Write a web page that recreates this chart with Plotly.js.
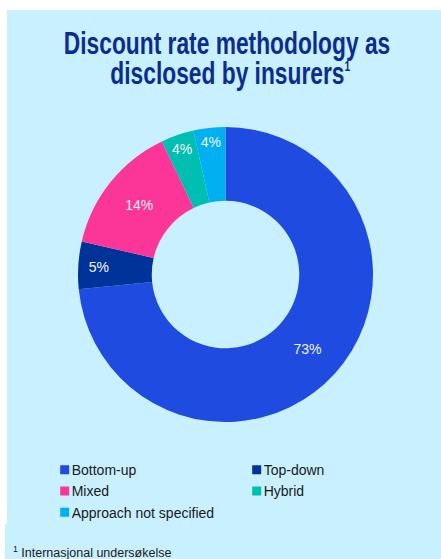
<!DOCTYPE html>
<html>
<head>
<meta charset="utf-8">
<script src="https://cdn.plot.ly/plotly-3.0.1.min.js"></script>
<style>
  html, body { margin: 0; padding: 0; background: #ffffff; width: 441px; height: 559px; overflow: hidden; }
  #chart { position: absolute; left: 7px; top: 10px; width: 434px; height: 549px; }
  #band { position: absolute; left: 5px; top: 524px; width: 4px; height: 35px; background: #C9F0FE; }
</style>
</head>
<body>
<div id="band"></div>
<div id="chart"></div>
<script>
// Data
const categories = ["Bottom-up", "Top-down", "Mixed", "Hybrid", "Approach not specified"];
const shares = [73.4, 5.2, 14.3, 3.6, 3.5];
const sliceColors = ["#204BE0", "#00339A", "#FC3698", "#00BFB2", "#00B0F0"];
const titleLine1 = "Discount rate methodology as";
const titleLine2 = "disclosed by insurers<sup><span style=\"font-size:14px\">1</span></sup>";
const footnoteText = "<sup>1</sup>&nbsp;Internasjonal undersøkelse";

const W = 434, H = 549;
const BG = "#C9F0FE";
const NAVY = "#0B2E8E";
const titleFont = { family: "Liberation Sans, Arial, sans-serif", size: 31, color: NAVY, weight: "bold" };

const trace = {
  type: "pie",
  labels: categories,
  values: shares,
  hole: 0.5,
  sort: false,
  direction: "clockwise",
  rotation: 0,
  domain: { x: [71 / W, 366 / W], y: [137 / H, 432 / H] },
  marker: { colors: sliceColors, line: { width: 0 } },
  texttemplate: "%{percent:.0%}",
  textposition: "inside",
  insidetextorientation: "horizontal",
  textfont: { family: "Liberation Sans, Arial, sans-serif", size: 14, color: "#F4F4F4" },
  hoverinfo: "label+percent"
};

const layout = {
  width: W,
  height: H,
  paper_bgcolor: BG,
  plot_bgcolor: BG,
  margin: { l: 0, r: 0, t: 0, b: 0, autoexpand: false },
  showlegend: true,
  title: {
    text: titleLine1,
    font: titleFont,
    x: 0.507,
    xanchor: "center",
    xref: "container",
    yref: "container",
    y: 0.9585,
    yanchor: "top"
  },
  legend: {
    orientation: "h",
    x: 0.0569,
    xanchor: "left",
    y: 0.191,
    yanchor: "top",
    entrywidth: 147,
    traceorder: "normal",
    font: { family: "Liberation Sans, Arial, sans-serif", size: 14, color: "#1a1a1a" },
    bgcolor: "rgba(0,0,0,0)"
  },
  annotations: [
    {
      text: titleLine2,
      xref: "paper", yref: "paper",
      x: 0.514, xanchor: "center",
      y: 0.92, yanchor: "top",
      showarrow: false,
      font: titleFont
    },
    {
      text: footnoteText,
      xref: "paper", yref: "paper",
      x: 0.0092, xanchor: "left",
      y: 0.0317, yanchor: "top",
      showarrow: false,
      font: { family: "Liberation Sans, Arial, sans-serif", size: 12.5, color: "#1a1a1a" }
    }
  ]
};

// The reference title uses a condensed face; compress the drawn title text horizontally.
function squish(el, s) {
  if (!el) return;
  const bb = el.getBBox();
  const cx = bb.x + bb.width / 2;
  const t = el.getAttribute("transform") || "";
  el.setAttribute("transform", (t + " translate(" + cx + ",0) scale(" + s + ",1) translate(" + (-cx) + ",0)").trim());
}

Plotly.newPlot("chart", [trace], layout, { displayModeBar: false, staticPlot: true }).then(function (gd) {
  squish(gd.querySelector(".g-gtitle text.gtitle"), 0.735);
  squish(gd.querySelector('.annotation[data-index="0"] text.annotation-text'), 0.735);
  // smaller legend swatches sitting close to their labels, as in the reference
  gd.querySelectorAll(".legend path.legendpie").forEach(function (p) {
    p.setAttribute("transform", "translate(33,0) scale(0.75)");
  });
});
</script>
</body>
</html>
